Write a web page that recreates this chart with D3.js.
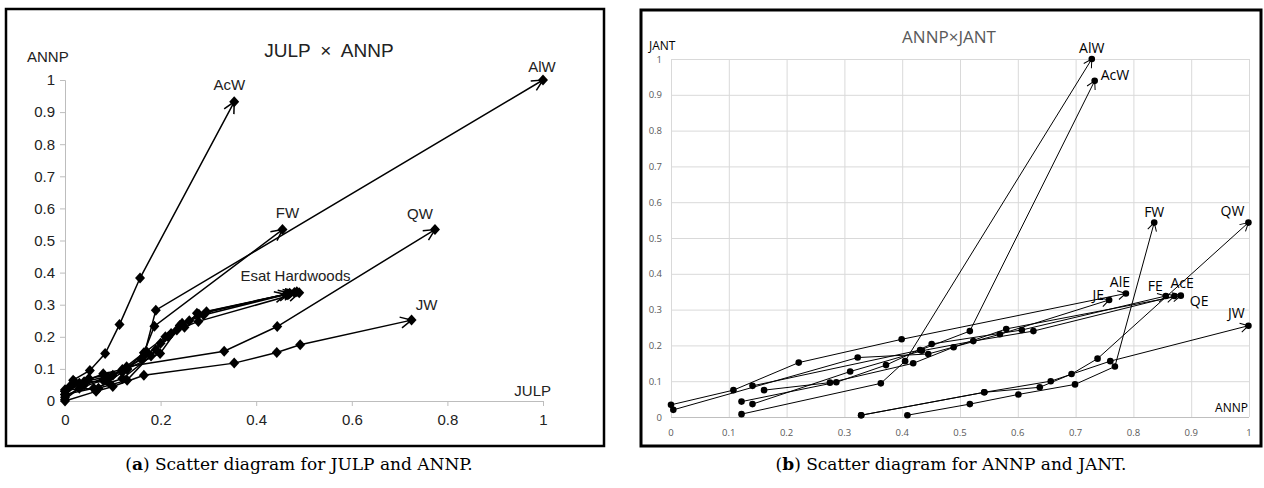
<!DOCTYPE html>
<html>
<head>
<meta charset="utf-8">
<script src="https://cdn.jsdelivr.net/npm/d3@7"></script>
<style>
  body { margin: 0; background: #fff; }
  svg { display: block; }
</style>
</head>
<body>
<svg id="chart" width="1264" height="488"></svg>
<script>
// ---- (a) JULP x ANNP : [JULP, ANNP] per time step, last point gets the arrow
const a_AcW = [[0,0.03],[0.017,0.065],[0.052,0.095],[0.084,0.148],[0.114,0.238],[0.157,0.383],[0.354,0.932]];
const a_AlW = [[0,0.012],[0.04,0.05],[0.09,0.075],[0.13,0.1],[0.165,0.14],[0.19,0.283],[1,1]];
const a_FW  = [[0,0.02],[0.03,0.055],[0.08,0.085],[0.12,0.098],[0.165,0.15],[0.187,0.233],[0.455,0.534]];
const a_QW  = [[0,0.005],[0.03,0.04],[0.08,0.065],[0.129,0.107],[0.333,0.155],[0.444,0.232],[0.774,0.534]];
const a_JW  = [[0,0],[0.065,0.03],[0.1,0.045],[0.165,0.08],[0.354,0.118],[0.443,0.151],[0.492,0.175],[0.725,0.252]];
const a_AcE = [[0,0.03],[0.04,0.06],[0.1,0.08],[0.16,0.13],[0.2,0.18],[0.24,0.235],[0.28,0.27],[0.47,0.336]];
const a_AlE = [[0.01,0.045],[0.05,0.07],[0.12,0.09],[0.17,0.155],[0.21,0.2],[0.245,0.242],[0.296,0.278],[0.48,0.338]];
const a_FE  = [[0,0.02],[0.06,0.04],[0.12,0.07],[0.18,0.14],[0.222,0.21],[0.26,0.25],[0.29,0.268],[0.462,0.332]];
const a_QE  = [[0.02,0.06],[0.09,0.06],[0.13,0.1],[0.199,0.148],[0.234,0.221],[0.279,0.248],[0.49,0.337]];
const a_JE  = [[0,0.035],[0.07,0.04],[0.13,0.065],[0.19,0.16],[0.216,0.2],[0.25,0.23],[0.276,0.273],[0.485,0.34]];
const a_names = ["AcW","AlW","FW","QW","JW","AcE","AlE","FE","QE","JE"];
const a_series = [a_AcW,a_AlW,a_FW,a_QW,a_JW,a_AcE,a_AlE,a_FE,a_QE,a_JE];
const a_xTicks = [0,0.2,0.4,0.6,0.8,1];
const a_yTicks = [0,0.1,0.2,0.3,0.4,0.5,0.6,0.7,0.8,0.9,1];

// ---- (b) ANNP x JANT : [ANNP, JANT]
const b_AlW = [[0.122,0.008],[0.363,0.094],[0.405,0.156],[0.728,1.0]];
const b_AcW = [[0.141,0.087],[0.431,0.187],[0.517,0.24],[0.733,0.939]];
const b_FW  = [[0.409,0.005],[0.517,0.036],[0.601,0.063],[0.699,0.091],[0.768,0.141],[0.836,0.543]];
const b_QW  = [[0.329,0.005],[0.542,0.069],[0.638,0.083],[0.693,0.12],[0.738,0.163],[0.999,0.543]];
const b_JW  = [[0.329,0.005],[0.542,0.069],[0.657,0.1],[0.76,0.156],[0.999,0.255]];
const b_AcE = [[0.141,0.036],[0.31,0.127],[0.434,0.185],[0.523,0.212],[0.627,0.24],[0.871,0.338]];
const b_AlE = [[0,0.034],[0.108,0.075],[0.221,0.152],[0.399,0.217],[0.787,0.345]];
const b_FE  = [[0.122,0.043],[0.286,0.097],[0.372,0.145],[0.451,0.204],[0.607,0.243],[0.856,0.338]];
const b_QE  = [[0.161,0.075],[0.275,0.096],[0.419,0.15],[0.489,0.195],[0.58,0.246],[0.882,0.339]];
const b_JE  = [[0.004,0.02],[0.323,0.166],[0.445,0.176],[0.569,0.231],[0.758,0.327]];
const b_names = ["AlW","AcW","FW","QW","JW","AcE","AlE","FE","QE","JE"];
const b_series = [b_AlW,b_AcW,b_FW,b_QW,b_JW,b_AcE,b_AlE,b_FE,b_QE,b_JE];
const b_ticks = [0,0.1,0.2,0.3,0.4,0.5,0.6,0.7,0.8,0.9,1];

// label placement (pixel offsets from the last point)
const a_label = {AcW:[-5,-12,"middle"], AlW:[-1,-8,"middle"], FW:[5,-12,"middle"], QW:[-15,-11,"middle"], JW:[15,-10,"middle"]};
const b_label = {AlW:[0,-6,"middle"], AcW:[6,-1,"start"], FW:[0,-6,"middle"], QW:[-16,-7,"middle"], JW:[-12,-8,"middle"],
                 JE:[-5,0,"end"], AlE:[-6,-6,"middle"], FE:[-3,-5,"end"], AcE:[-4,-8,"start"], QE:[9,10,"start"]};

const svg = d3.select("#chart");
const fmt = d3.format("~g");

const defs = svg.append("defs");
function arrowMarker(id, len, half, w) {
  defs.append("marker")
    .attr("id", id)
    .attr("markerUnits", "userSpaceOnUse")
    .attr("viewBox", `${-len-2} ${-half-2} ${len+4} ${2*half+4}`)
    .attr("markerWidth", len + 4)
    .attr("markerHeight", 2*half + 4)
    .attr("refX", 0).attr("refY", 0)
    .attr("orient", "auto")
    .append("path")
      .attr("d", `M${-len},${-half}L0,0L${-len},${half}`)
      .attr("fill", "none")
      .attr("stroke", "#000")
      .attr("stroke-width", w);
}
arrowMarker("arrA", 11, 5.5, 1.5);
arrowMarker("arrB", 8, 4.5, 1);

// ================= chart (a) =================
svg.append("rect")
  .attr("x", 6).attr("y", 9).attr("width", 598).attr("height", 437)
  .attr("fill", "none").attr("stroke", "#000").attr("stroke-width", 2.5);

const xA = d3.scaleLinear().domain([0, 1]).range([65, 543]);
const yA = d3.scaleLinear().domain([0, 1]).range([401, 80]);

const gA = svg.append("g").style("font-family", "'Liberation Sans', Arial, sans-serif");

gA.append("g")
  .attr("transform", `translate(0,${yA(0)})`)
  .call(d3.axisBottom(xA).tickValues(a_xTicks).tickFormat(fmt).tickSizeOuter(0).tickSize(5).tickPadding(8))
  .call(g => g.selectAll("line,path").attr("stroke", "#bdbdbd"))
  .call(g => g.selectAll("text").attr("font-size", 15).attr("fill", "#222").attr("font-family", null));

gA.append("g")
  .attr("transform", `translate(${xA(0)},0)`)
  .call(d3.axisLeft(yA).tickValues(a_yTicks).tickFormat(fmt).tickSizeOuter(0).tickSize(5).tickPadding(5))
  .call(g => g.selectAll("line,path").attr("stroke", "#bdbdbd"))
  .call(g => g.selectAll("text").attr("font-size", 15).attr("fill", "#222").attr("font-family", null));

gA.append("text").attr("x", 329).attr("y", 57).attr("text-anchor", "middle")
  .attr("font-size", 19).attr("fill", "#222").text("JULP\u2002×\u2002ANNP");
gA.append("text").attr("x", 27).attr("y", 62).attr("font-size", 15).attr("fill", "#222").text("ANNP");
gA.append("text").attr("x", 551).attr("y", 396).attr("text-anchor", "end")
  .attr("font-size", 15).attr("fill", "#222").text("JULP");

const lineA = d3.line().x(d => xA(d[0])).y(d => yA(d[1]));
gA.append("g").selectAll("path")
  .data(a_series)
  .join("path")
    .attr("d", lineA)
    .attr("fill", "none")
    .attr("stroke", "#000")
    .attr("stroke-width", 1.5)
    .attr("marker-end", "url(#arrA)");

gA.append("g").selectAll("path")
  .data(a_series.flat())
  .join("path")
    .attr("transform", d => `translate(${xA(d[0])},${yA(d[1])})`)
    .attr("d", "M0,-5.5L5,0L0,5.5L-5,0Z")
    .attr("fill", "#000");

a_names.forEach((n, i) => {
  const o = a_label[n];
  if (!o) return;
  const p = a_series[i][a_series[i].length - 1];
  gA.append("text")
    .attr("x", xA(p[0]) + o[0]).attr("y", yA(p[1]) + o[1])
    .attr("text-anchor", o[2]).attr("font-size", 15).attr("fill", "#222")
    .text(n);
});
{
  const p = a_AlE[a_AlE.length - 1];
  gA.append("text")
    .attr("x", xA(p[0]) - 54).attr("y", yA(p[1]) - 12)
    .attr("font-size", 15).attr("fill", "#222")
    .text("Esat Hardwoods");
}

// ================= chart (b) =================
svg.append("rect")
  .attr("x", 641).attr("y", 10).attr("width", 620).attr("height", 436)
  .attr("fill", "none").attr("stroke", "#000").attr("stroke-width", 3);

const xB = d3.scaleLinear().domain([0, 1]).range([671, 1249]);
const yB = d3.scaleLinear().domain([0, 1]).range([417, 59]);

const gB = svg.append("g").style("font-family", "'Open Sans', 'Noto Sans', sans-serif");

gB.append("g").selectAll("line.v")
  .data(b_ticks)
  .join("line").attr("class", "v")
    .attr("x1", d => xB(d) + 0.5).attr("x2", d => xB(d) + 0.5)
    .attr("y1", yB(1)).attr("y2", yB(0))
    .attr("stroke", "#d9d9d9");
gB.append("g").selectAll("line.h")
  .data(b_ticks)
  .join("line").attr("class", "h")
    .attr("x1", xB(0)).attr("x2", xB(1))
    .attr("y1", d => yB(d) + 0.5).attr("y2", d => yB(d) + 0.5)
    .attr("stroke", d => d === 0 ? "#bfbfbf" : "#d9d9d9");

gB.append("g").selectAll("text.yt")
  .data(b_ticks)
  .join("text").attr("class", "yt")
    .attr("x", 662).attr("y", d => yB(d) + 3.5)
    .attr("text-anchor", "end").attr("font-size", 9.5).attr("fill", "#595959")
    .text(fmt);
gB.append("g").selectAll("text.xt")
  .data(b_ticks)
  .join("text").attr("class", "xt")
    .attr("x", d => xB(d)).attr("y", 436)
    .attr("text-anchor", "middle").attr("font-size", 9.5).attr("fill", "#595959")
    .text(fmt);

gB.append("text").attr("x", 949).attr("y", 43).attr("text-anchor", "middle")
  .attr("font-size", 17).attr("fill", "#595959").text("ANNP×JANT");
gB.append("text").attr("x", 649).attr("y", 50).attr("font-size", 12).attr("fill", "#000").text("JANT");
gB.append("text").attr("x", 1248).attr("y", 412).attr("text-anchor", "end")
  .attr("font-size", 12).attr("fill", "#000").text("ANNP");

const lineB = d3.line().x(d => xB(d[0])).y(d => yB(d[1]));
gB.append("g").selectAll("path")
  .data(b_series)
  .join("path")
    .attr("d", lineB)
    .attr("fill", "none")
    .attr("stroke", "#000")
    .attr("stroke-width", 1)
    .attr("marker-end", "url(#arrB)");

gB.append("g").selectAll("circle")
  .data(b_series.flat())
  .join("circle")
    .attr("cx", d => xB(d[0])).attr("cy", d => yB(d[1]))
    .attr("r", 3.3)
    .attr("fill", "#000");

b_names.forEach((n, i) => {
  const o = b_label[n];
  const p = b_series[i][b_series[i].length - 1];
  gB.append("text")
    .attr("x", xB(p[0]) + o[0]).attr("y", yB(p[1]) + o[1])
    .attr("text-anchor", o[2]).attr("font-size", 14).attr("fill", "#000")
    .text(n);
});

// ================= captions =================
const capA = svg.append("text").attr("x", 299).attr("y", 470).attr("text-anchor", "middle")
  .attr("font-family", "'DejaVu Serif', serif").attr("font-size", 17).attr("fill", "#000");
capA.append("tspan").text("(");
capA.append("tspan").attr("font-weight", "bold").text("a");
capA.append("tspan").text(") Scatter diagram for JULP and ANNP.");

const capB = svg.append("text").attr("x", 951).attr("y", 470).attr("text-anchor", "middle")
  .attr("font-family", "'DejaVu Serif', serif").attr("font-size", 17).attr("fill", "#000");
capB.append("tspan").text("(");
capB.append("tspan").attr("font-weight", "bold").text("b");
capB.append("tspan").text(") Scatter diagram for ANNP and JANT.");
</script>
</body>
</html>
